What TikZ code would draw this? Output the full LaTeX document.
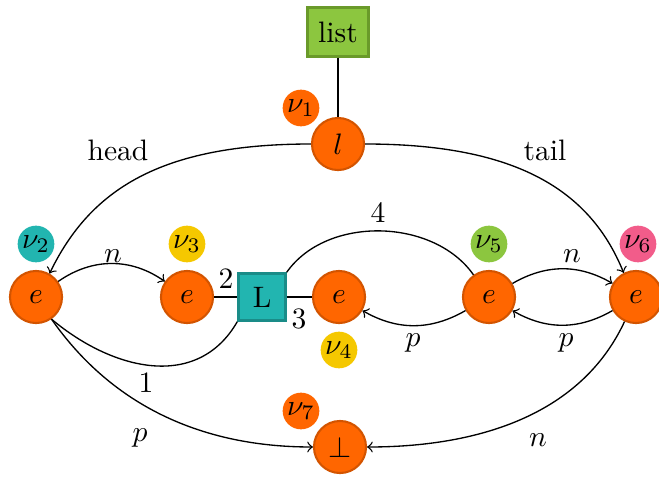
\documentclass[tikz,border=0pt]{standalone}
\definecolor{myorange}{HTML}{FF6600}
\definecolor{myorangedark}{HTML}{D35400}
\definecolor{myteal}{HTML}{22B5B0}
\definecolor{mytealdark}{HTML}{1A8C88}
\definecolor{myyellow}{HTML}{F5C800}
\definecolor{mygreen}{HTML}{8CC63F}
\definecolor{mygreendark}{HTML}{6A9A2A}
\definecolor{mypink}{HTML}{F25C8A}
\begin{document}
\begin{tikzpicture}[x=0.338pt,y=-0.338pt,
  vert/.style={circle,fill=myorange,draw=myorangedark,line width=0.7pt,minimum size=17.6pt,inner sep=0pt},
  badge/.style={circle,fill=#1,inner sep=0pt,minimum size=12.4pt},
  sq/.style={rectangle,fill=#1,line width=0.8pt,inner sep=0pt},
  conn/.style={line width=0.45pt},
  lbl/.style={inner sep=1pt}]
\useasboundingbox (0,0) rectangle (659,478);
% main nodes
\node[sq=mygreen,draw=mygreendark,minimum width=20.6pt,minimum height=16.6pt] (list) at (338,32) {list};
\node[vert] (l) at (338,144) {$l$};
\node[vert] (v2) at (36,297) {$e$};
\node[vert] (v3) at (187,297) {$e$};
\node[sq=myteal,draw=mytealdark,minimum size=15.9pt] (L) at (262,297) {L};
\node[vert] (v4) at (339,297) {$e$};
\node[vert] (v5) at (489,297) {$e$};
\node[vert] (v6) at (636,297) {$e$};
\node[vert] (bot) at (340,447) {$\bot$};
% badges
\node[badge=myorange] (b1) at (301,108) {$\nu_1$};
\node[badge=myteal] (b2) at (36,244) {$\nu_2$};
\node[badge=myyellow] (b3) at (187,244) {$\nu_3$};
\node[badge=myyellow] (b4) at (339,350) {$\nu_4$};
\node[badge=mygreen] (b5) at (489,244) {$\nu_5$};
\node[badge=mypink] (b6) at (638,244) {$\nu_6$};
\node[badge=myorange] (b7) at (301,411) {$\nu_7$};
% connectors
\draw[conn] (list) -- (l);
\draw[conn,->] (l.west) .. controls (160,144) and (90,190) .. (v2.60);
\draw[conn,->] (l.east) .. controls (516,144) and (590,190) .. (v6.117);
\draw[conn,->] (v2) to[bend left=35] (v3);
\draw[conn] (v3) -- (L);
\draw[conn] (L) -- (v4);
\draw[conn] (L.north east) to[out=55,in=125,looseness=0.95] (v5);
\draw[conn] (L.south west) to[out=-120,in=-40,looseness=1.1] (v2.-55);
\draw[conn,->] (v5) to[bend left=30] (v4);
\draw[conn,->] (v5) to[bend left=30] (v6);
\draw[conn,->] (v6) to[bend left=30] (v5);
\draw[conn,->] (v2.-55) to[out=-55,in=180,looseness=0.95] (bot);
\draw[conn,->] (v6) to[out=-115,in=0,looseness=0.95] (bot);
% labels
\node[lbl] (thead) at (118,150) {head};
\node[lbl] (ttail) at (545,150) {tail};
\node[lbl] (tn1) at (113,256) {$n$};
\node[lbl] (t2) at (226,279) {2};
\node[lbl] (t3) at (299,319) {3};
\node[lbl] (t4) at (378,212) {4};
\node[lbl] (t1) at (146,383) {1};
\node[lbl] (tp1) at (413,343) {$p$};
\node[lbl] (tn2) at (572,256) {$n$};
\node[lbl] (tp2) at (566,343) {$p$};
\node[lbl] (tp3) at (140,438) {$p$};
\node[lbl] (tn3) at (538,440) {$n$};
\end{tikzpicture}
\end{document}
